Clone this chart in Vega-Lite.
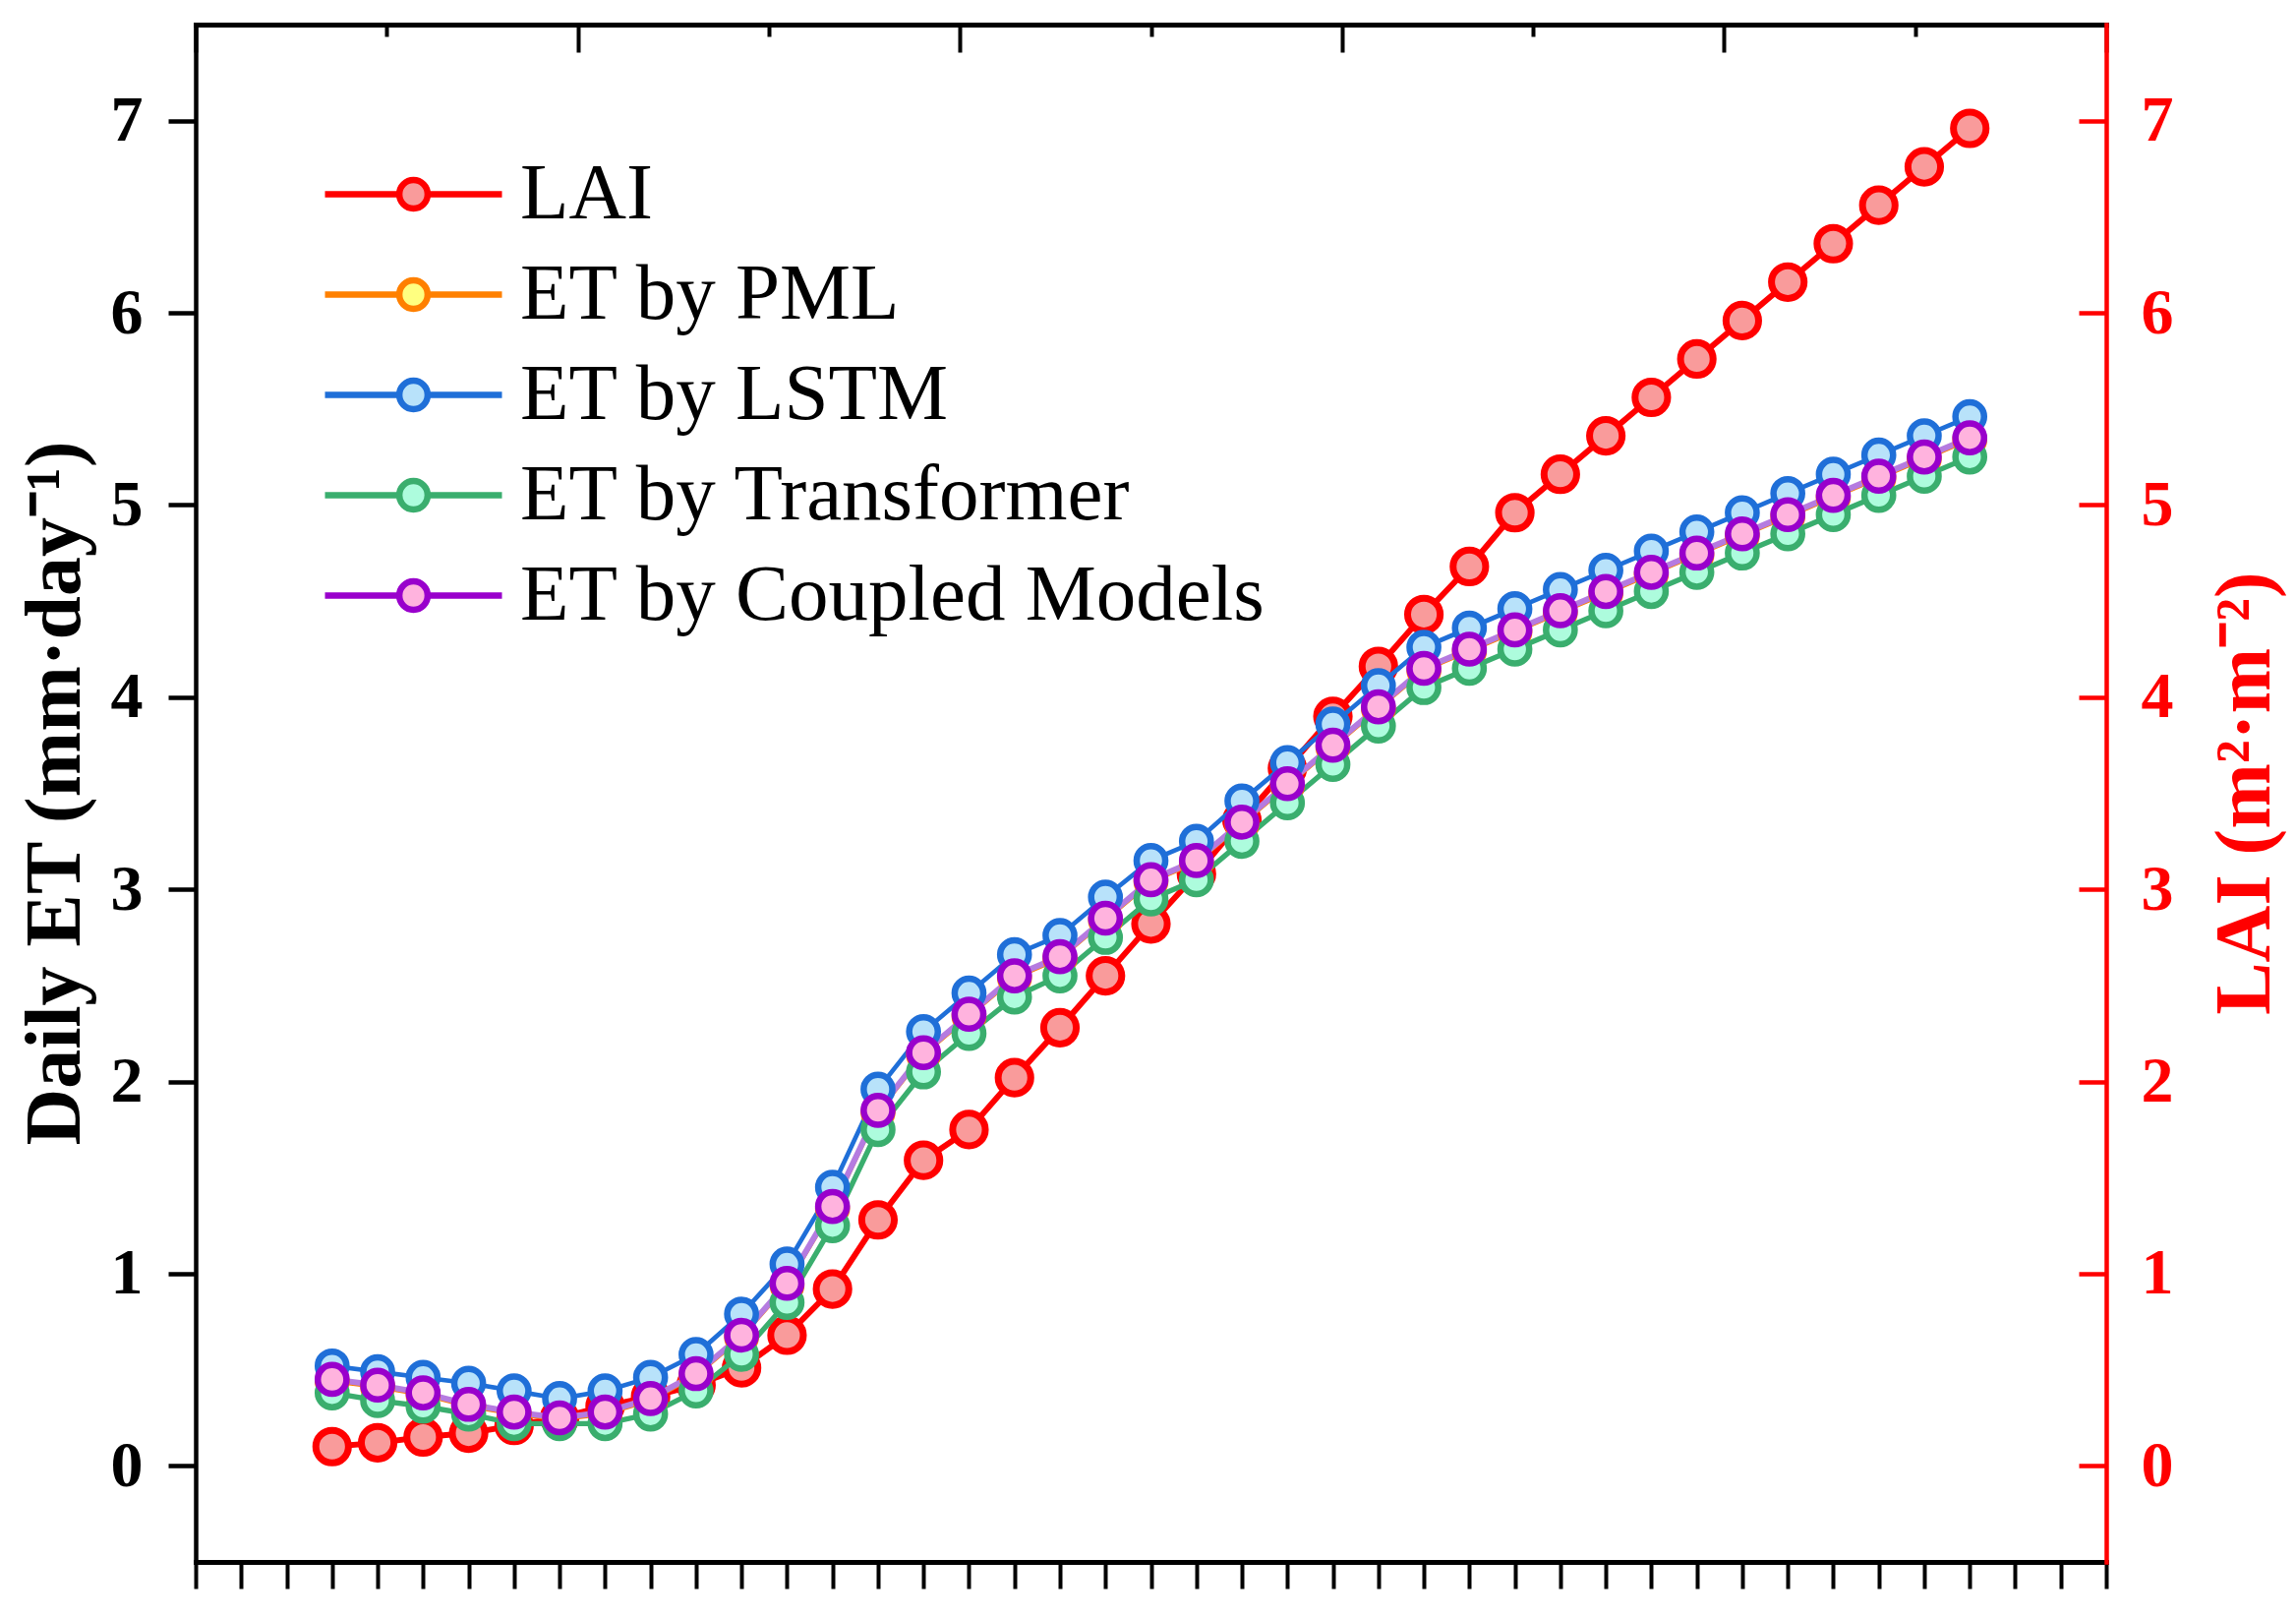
{
  "$schema": "https://vega.github.io/schema/vega-lite/v6.json",
  "autosize": "none",
  "width": 1943,
  "height": 1563,
  "padding": {"left": 199, "top": 25, "right": 193, "bottom": 57},
  "background": "white",
  "config": {
    "font": "Liberation Serif",
    "view": {"stroke": null}
  },
  "data": {
    "values": [
      {"day": 1, "LAI": 0.10, "ET by PML": 0.44, "ET by LSTM": 0.52, "ET by Transformer": 0.38, "ET by Coupled Models": 0.45},
      {"day": 2, "LAI": 0.12, "ET by PML": 0.41, "ET by LSTM": 0.49, "ET by Transformer": 0.34, "ET by Coupled Models": 0.42},
      {"day": 3, "LAI": 0.15, "ET by PML": 0.37, "ET by LSTM": 0.46, "ET by Transformer": 0.31, "ET by Coupled Models": 0.38},
      {"day": 4, "LAI": 0.17, "ET by PML": 0.31, "ET by LSTM": 0.43, "ET by Transformer": 0.27, "ET by Coupled Models": 0.32},
      {"day": 5, "LAI": 0.21, "ET by PML": 0.27, "ET by LSTM": 0.39, "ET by Transformer": 0.22, "ET by Coupled Models": 0.28},
      {"day": 6, "LAI": 0.25, "ET by PML": 0.24, "ET by LSTM": 0.35, "ET by Transformer": 0.22, "ET by Coupled Models": 0.25},
      {"day": 7, "LAI": 0.31, "ET by PML": 0.27, "ET by LSTM": 0.39, "ET by Transformer": 0.22, "ET by Coupled Models": 0.28},
      {"day": 8, "LAI": 0.36, "ET by PML": 0.34, "ET by LSTM": 0.46, "ET by Transformer": 0.27, "ET by Coupled Models": 0.35},
      {"day": 9, "LAI": 0.42, "ET by PML": 0.47, "ET by LSTM": 0.58, "ET by Transformer": 0.39, "ET by Coupled Models": 0.48},
      {"day": 10, "LAI": 0.51, "ET by PML": 0.67, "ET by LSTM": 0.79, "ET by Transformer": 0.58, "ET by Coupled Models": 0.68},
      {"day": 11, "LAI": 0.68, "ET by PML": 0.94, "ET by LSTM": 1.05, "ET by Transformer": 0.85, "ET by Coupled Models": 0.95},
      {"day": 12, "LAI": 0.92, "ET by PML": 1.34, "ET by LSTM": 1.45, "ET by Transformer": 1.25, "ET by Coupled Models": 1.35},
      {"day": 13, "LAI": 1.28, "ET by PML": 1.84, "ET by LSTM": 1.96, "ET by Transformer": 1.75, "ET by Coupled Models": 1.85},
      {"day": 14, "LAI": 1.59, "ET by PML": 2.14, "ET by LSTM": 2.26, "ET by Transformer": 2.05, "ET by Coupled Models": 2.15},
      {"day": 15, "LAI": 1.75, "ET by PML": 2.34, "ET by LSTM": 2.46, "ET by Transformer": 2.25, "ET by Coupled Models": 2.35},
      {"day": 16, "LAI": 2.02, "ET by PML": 2.54, "ET by LSTM": 2.66, "ET by Transformer": 2.44, "ET by Coupled Models": 2.55},
      {"day": 17, "LAI": 2.28, "ET by PML": 2.64, "ET by LSTM": 2.76, "ET by Transformer": 2.55, "ET by Coupled Models": 2.65},
      {"day": 18, "LAI": 2.55, "ET by PML": 2.84, "ET by LSTM": 2.96, "ET by Transformer": 2.75, "ET by Coupled Models": 2.85},
      {"day": 19, "LAI": 2.82, "ET by PML": 3.04, "ET by LSTM": 3.15, "ET by Transformer": 2.95, "ET by Coupled Models": 3.05},
      {"day": 20, "LAI": 3.08, "ET by PML": 3.14, "ET by LSTM": 3.25, "ET by Transformer": 3.05, "ET by Coupled Models": 3.15},
      {"day": 21, "LAI": 3.36, "ET by PML": 3.34, "ET by LSTM": 3.46, "ET by Transformer": 3.25, "ET by Coupled Models": 3.35},
      {"day": 22, "LAI": 3.63, "ET by PML": 3.54, "ET by LSTM": 3.66, "ET by Transformer": 3.45, "ET by Coupled Models": 3.55},
      {"day": 23, "LAI": 3.90, "ET by PML": 3.74, "ET by LSTM": 3.86, "ET by Transformer": 3.65, "ET by Coupled Models": 3.75},
      {"day": 24, "LAI": 4.16, "ET by PML": 3.94, "ET by LSTM": 4.06, "ET by Transformer": 3.85, "ET by Coupled Models": 3.95},
      {"day": 25, "LAI": 4.43, "ET by PML": 4.14, "ET by LSTM": 4.26, "ET by Transformer": 4.05, "ET by Coupled Models": 4.15},
      {"day": 26, "LAI": 4.68, "ET by PML": 4.24, "ET by LSTM": 4.36, "ET by Transformer": 4.15, "ET by Coupled Models": 4.25},
      {"day": 27, "LAI": 4.96, "ET by PML": 4.34, "ET by LSTM": 4.46, "ET by Transformer": 4.25, "ET by Coupled Models": 4.35},
      {"day": 28, "LAI": 5.16, "ET by PML": 4.44, "ET by LSTM": 4.56, "ET by Transformer": 4.35, "ET by Coupled Models": 4.45},
      {"day": 29, "LAI": 5.36, "ET by PML": 4.54, "ET by LSTM": 4.66, "ET by Transformer": 4.45, "ET by Coupled Models": 4.55},
      {"day": 30, "LAI": 5.56, "ET by PML": 4.64, "ET by LSTM": 4.76, "ET by Transformer": 4.55, "ET by Coupled Models": 4.65},
      {"day": 31, "LAI": 5.76, "ET by PML": 4.74, "ET by LSTM": 4.86, "ET by Transformer": 4.65, "ET by Coupled Models": 4.75},
      {"day": 32, "LAI": 5.96, "ET by PML": 4.84, "ET by LSTM": 4.96, "ET by Transformer": 4.75, "ET by Coupled Models": 4.85},
      {"day": 33, "LAI": 6.16, "ET by PML": 4.94, "ET by LSTM": 5.06, "ET by Transformer": 4.85, "ET by Coupled Models": 4.95},
      {"day": 34, "LAI": 6.36, "ET by PML": 5.04, "ET by LSTM": 5.16, "ET by Transformer": 4.95, "ET by Coupled Models": 5.05},
      {"day": 35, "LAI": 6.56, "ET by PML": 5.14, "ET by LSTM": 5.26, "ET by Transformer": 5.05, "ET by Coupled Models": 5.15},
      {"day": 36, "LAI": 6.76, "ET by PML": 5.24, "ET by LSTM": 5.36, "ET by Transformer": 5.15, "ET by Coupled Models": 5.25},
      {"day": 37, "LAI": 6.96, "ET by PML": 5.34, "ET by LSTM": 5.46, "ET by Transformer": 5.25, "ET by Coupled Models": 5.35}
    ]
  },
  "transform": [
    {"fold": ["LAI", "ET by PML", "ET by LSTM", "ET by Transformer", "ET by Coupled Models"], "as": ["series", "value"]}
  ],
  "encoding": {
    "x": {"field": "day", "type": "quantitative", "scale": {"domain": [-2, 40], "nice": false, "zero": false}},
    "y": {"field": "value", "type": "quantitative", "scale": {"domain": [-0.5, 7.5], "nice": false, "zero": false}}
  },
  "layer": [
    {
      "transform": [{"filter": "datum.series === 'LAI'"}],
      "mark": {"type": "line", "color": "#FF0000", "strokeWidth": 6},
      "encoding": {
        "x": {
          "field": "day", "type": "quantitative",
          "axis": {
            "orient": "bottom", "title": null, "labels": false, "grid": false,
            "values": [-2, -1, 0, 1, 2, 3, 4, 5, 6, 7, 8, 9, 10, 11, 12, 13, 14, 15, 16, 17, 18, 19, 20, 21, 22, 23, 24, 25, 26, 27, 28, 29, 30, 31, 32, 33, 34, 35, 36, 37, 38, 39, 40],
            "tickSize": 27, "tickWidth": 4, "tickColor": "black",
            "domainColor": "black", "domainWidth": 5, "domainCap": "square"
          }
        },
        "y": {
          "field": "value", "type": "quantitative",
          "axis": {
            "orient": "right", "grid": false,
            "values": [0, 0.5, 1, 1.5, 2, 2.5, 3, 3.5, 4, 4.5, 5, 5.5, 6, 6.5, 7],
            "format": "d",
            "labelExpr": "datum.value % 1 === 0 ? datum.label : ''",
            "labelColor": "#FF0000", "labelFontSize": 66, "labelFontWeight": "bold", "labelFont": "Liberation Serif",
            "labelPadding": 35,
            "tickSize": 0, "tickWidth": 4.5, "tickColor": "#FF0000",
            "encoding": {"ticks": {"x2": {"condition": {"test": "datum.value % 1 === 0", "value": -28}, "value": -13}}},
            "domainColor": "#FF0000", "domainWidth": 4.5, "domainCap": "square",
            "title": "LAI (m²·m⁻²)", "titleColor": "#FF0000", "titleFontSize": 80, "titleFontWeight": "bold", "titleFont": "Liberation Serif",
            "titleAngle": 270, "titleBaseline": "alphabetic", "titleAlign": "center", "titleX": 165, "titleY": 781
          }
        }
      }
    },
    {
      "transform": [{"filter": "datum.series === 'LAI'"}],
      "mark": {"type": "point", "shape": "circle", "filled": true, "size": 1100, "strokeWidth": 7, "opacity": 1},
      "encoding": {
        "x": {"field": "day", "type": "quantitative", "axis": null},
        "y": {"field": "value", "type": "quantitative", "axis": null},
        "stroke": {
          "field": "series", "type": "nominal",
          "scale": {"domain": ["LAI", "ET by PML", "ET by LSTM", "ET by Transformer", "ET by Coupled Models"], "range": ["#FF0000", "#FF8000", "#1F6FD8", "#3AAE6E", "#9900CC"]},
          "legend": {
            "title": null, "orient": "none", "legendX": 181, "legendY": 132, "padding": 0,
            "symbolType": "M-5,0H-0.8M0.8,0H5M0.8,0A0.8,0.8 0 1 1 -0.8,0A0.8,0.8 0 1 1 0.8,0Z",
            "symbolSize": 1296, "symbolStrokeWidth": 6.5, "symbolOpacity": 1,
            "labelFont": "Liberation Serif", "labelFontSize": 81, "labelColor": "black", "labelOffset": 68, "labelLimit": 2000,
            "rowPadding": 20
          }
        },
        "fill": {
          "field": "series", "type": "nominal",
          "scale": {"domain": ["LAI", "ET by PML", "ET by LSTM", "ET by Transformer", "ET by Coupled Models"], "range": ["#F99B9B", "#FFFF80", "#B8E2FA", "#ADFCDD", "#FFB3DE"]},
          "legend": {
            "title": null, "orient": "none", "legendX": 181, "legendY": 132, "padding": 0,
            "symbolType": "M-5,0H-0.8M0.8,0H5M0.8,0A0.8,0.8 0 1 1 -0.8,0A0.8,0.8 0 1 1 0.8,0Z",
            "symbolSize": 1296, "symbolStrokeWidth": 6.5, "symbolOpacity": 1,
            "labelFont": "Liberation Serif", "labelFontSize": 81, "labelColor": "black", "labelOffset": 68, "labelLimit": 2000,
            "rowPadding": 20
          }
        }
      }
    },
    {
      "transform": [{"filter": "datum.series !== 'LAI'"}],
      "mark": {"type": "line"},
      "encoding": {
        "x": {
          "field": "day", "type": "quantitative",
          "axis": {
            "orient": "top", "title": null, "labels": false, "grid": false,
            "values": [-2, 2.2, 6.4, 10.6, 14.8, 19, 23.2, 27.4, 31.6, 35.8, 40],
            "tickSize": 0, "tickWidth": 4, "tickColor": "black",
            "encoding": {"ticks": {"y2": {"condition": {"test": "round(datum.index * 10) % 2 === 0", "value": 28}, "value": 12}}},
            "domainColor": "black", "domainWidth": 5, "domainCap": "square"
          }
        },
        "y": {
          "field": "value", "type": "quantitative",
          "axis": {
            "orient": "left", "grid": false,
            "values": [0, 0.5, 1, 1.5, 2, 2.5, 3, 3.5, 4, 4.5, 5, 5.5, 6, 6.5, 7],
            "format": "d",
            "labelExpr": "datum.value % 1 === 0 ? datum.label : ''",
            "labelColor": "black", "labelFontSize": 66, "labelFontWeight": "bold", "labelFont": "Liberation Serif",
            "labelPadding": 54,
            "tickSize": 0, "tickWidth": 4.5, "tickColor": "black",
            "encoding": {"ticks": {"x2": {"condition": {"test": "datum.value % 1 === 0", "value": -28}, "value": -13}}},
            "domainColor": "black", "domainWidth": 4.5, "domainCap": "square",
            "title": "Daily ET (mm·day⁻¹)", "titleColor": "black", "titleFontSize": 80, "titleFontWeight": "bold", "titleFont": "Liberation Serif",
            "titleAngle": 270, "titleBaseline": "alphabetic", "titleAlign": "center", "titleX": -119, "titleY": 781
          }
        },
        "color": {
          "field": "series", "type": "nominal", "legend": null,
          "scale": {"domain": ["ET by PML", "ET by LSTM", "ET by Transformer", "ET by Coupled Models"], "range": ["#FF8000", "#1F6FD8", "#3AAE6E", "#B57BE0"]}
        },
        "strokeWidth": {
          "field": "series", "type": "nominal", "legend": null,
          "scale": {"domain": ["ET by PML", "ET by LSTM", "ET by Transformer", "ET by Coupled Models"], "range": [4, 6, 6, 2]}
        }
      }
    },
    {
      "transform": [{"filter": "datum.series !== 'LAI'"}],
      "mark": {"type": "point", "shape": "circle", "filled": true, "size": 850, "strokeWidth": 6.5, "opacity": 1},
      "encoding": {
        "x": {"field": "day", "type": "quantitative", "axis": null},
        "y": {"field": "value", "type": "quantitative", "axis": null},
        "stroke": {"field": "series", "type": "nominal"},
        "fill": {"field": "series", "type": "nominal"}
      }
    }
  ],
  "resolve": {"axis": {"x": "independent", "y": "independent"}}
}
